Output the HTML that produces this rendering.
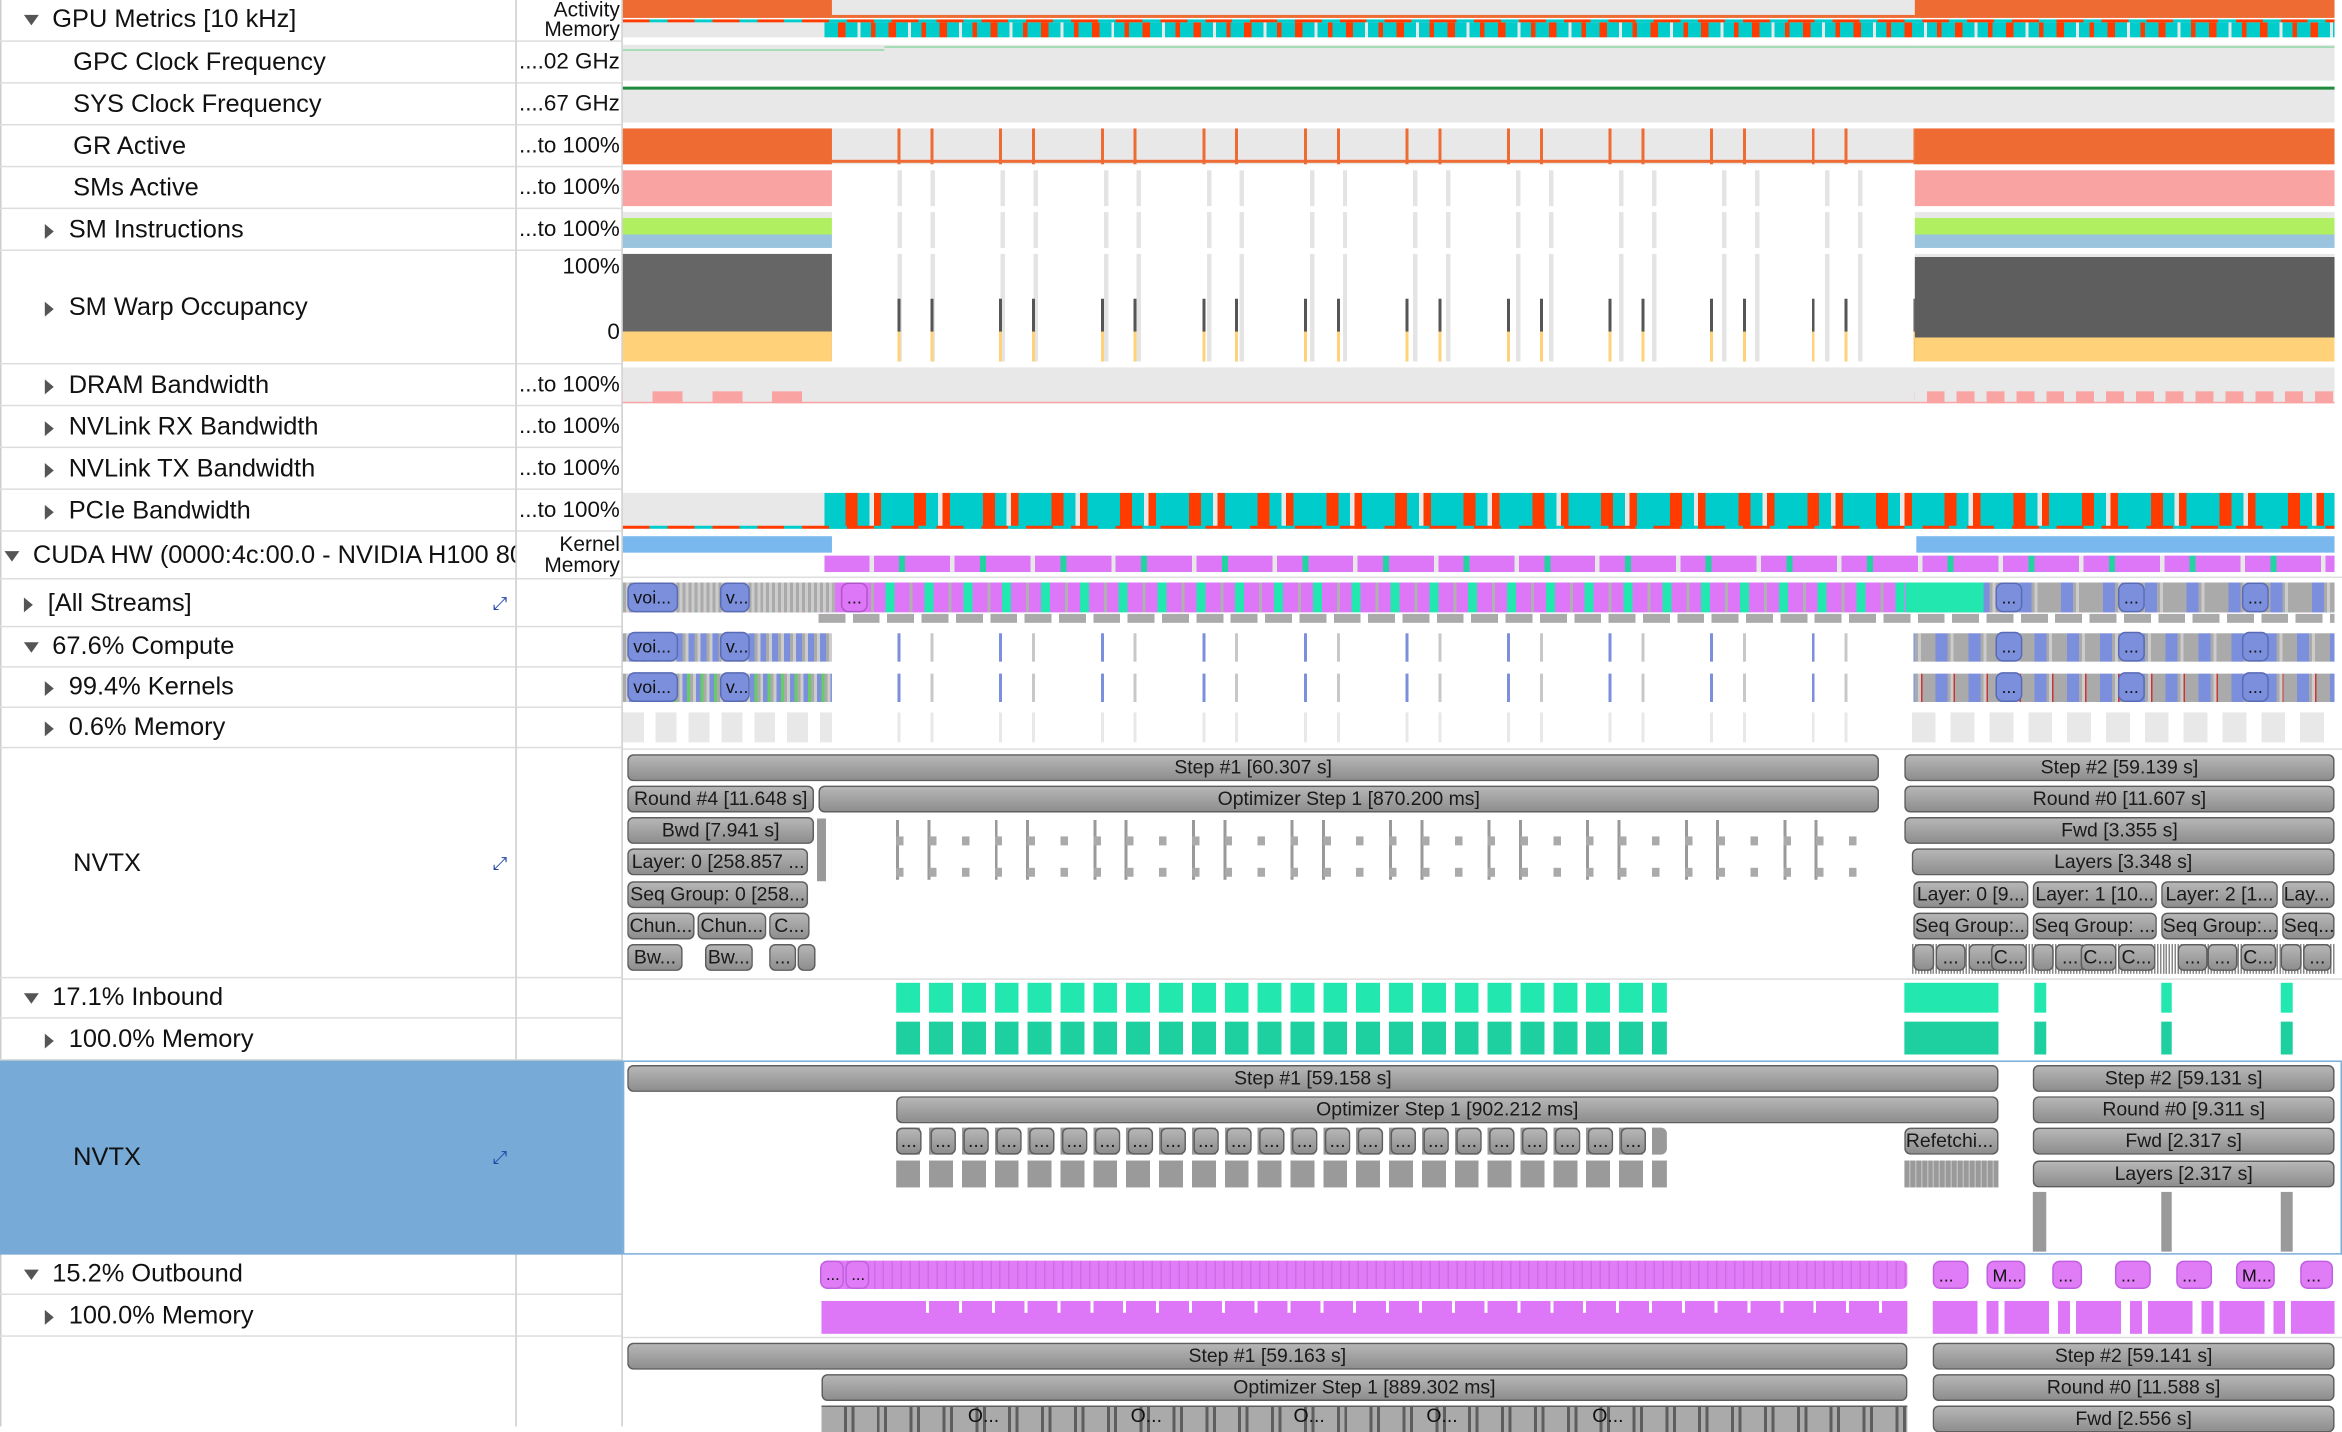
<!DOCTYPE html>
<html><head><meta charset="utf-8">
<style>
html,body{margin:0;padding:0;background:#fff;overflow:hidden}
#w{position:absolute;left:0;top:0;width:1568px;height:955px;transform:scale(1.49362);transform-origin:0 0;font-family:"Liberation Sans",sans-serif;color:#111}
div{box-sizing:border-box}
.a{position:absolute}
.l{position:absolute;left:0;width:345px;font-size:17px;white-space:nowrap;overflow:hidden;border-bottom:1px solid #ddd}
.v{position:absolute;left:346px;width:70px;font-size:15px;text-align:right;white-space:nowrap;overflow:hidden;border-bottom:1px solid #ddd;padding-right:1px}
.tri{display:inline-block;width:0;height:0;border-left:5px solid transparent;border-right:5px solid transparent;border-top:7px solid #555;margin-right:9px;vertical-align:middle}
.tr{display:inline-block;width:0;height:0;border-top:5px solid transparent;border-bottom:5px solid transparent;border-left:6px solid #555;margin-right:10px;vertical-align:middle}
.b{position:absolute;height:18px;background:linear-gradient(#b6b6b6,#a2a2a2 50%,#8e8e8e);border:1.5px solid #5e5e5e;border-radius:4px;font-size:13px;line-height:15px;text-align:center;white-space:nowrap;overflow:hidden;color:#1a1a1a}
.p{position:absolute;height:20px;background:#7b8fdc;border:1px solid #5a6bb5;border-radius:5px;font-size:12px;line-height:18px;text-align:left;padding-left:3px;color:#111;overflow:hidden}
.g{background:#e8e8e8}
</style></head><body><div id="w">
<!-- columns -->
<div class="a" style="left:345px;top:0;width:1px;height:955px;background:#ccc"></div>
<div class="a" style="left:416px;top:0;width:1px;height:955px;background:#ccc"></div>
<div class="a" style="left:0;top:0;width:1px;height:955px;background:#ccc"></div>

<!-- selected NVTX bg -->
<div class="a" style="left:0;top:710px;width:417px;height:130px;background:#77aad6"></div>
<div class="a" style="left:417px;top:710px;width:1151px;height:130px;border:1px solid #7aaedb"></div>

<!-- labels -->
<div class="l" style="top:0;height:28px;line-height:26px;padding-left:16px"><span class="tri"></span>GPU Metrics [10 kHz]</div>
<div class="v" style="top:0;height:28px;font-size:14px;line-height:13px">Activity<br>Memory</div>
<div class="l" style="top:28px;height:28px;line-height:27px;padding-left:49px">GPC Clock Frequency</div><div class="v" style="top:28px;height:28px;line-height:27px">....02 GHz</div>
<div class="l" style="top:56px;height:28px;line-height:27px;padding-left:49px">SYS Clock Frequency</div><div class="v" style="top:56px;height:28px;line-height:27px">....67 GHz</div>
<div class="l" style="top:84px;height:28px;line-height:27px;padding-left:49px">GR Active</div><div class="v" style="top:84px;height:28px;line-height:27px">...to 100%</div>
<div class="l" style="top:112px;height:28px;line-height:27px;padding-left:49px">SMs Active</div><div class="v" style="top:112px;height:28px;line-height:27px">...to 100%</div>
<div class="l" style="top:140px;height:28px;line-height:27px;padding-left:30px"><span class="tr"></span>SM Instructions</div><div class="v" style="top:140px;height:28px;line-height:27px">...to 100%</div>
<div class="l" style="top:168px;height:76px;line-height:76px;padding-left:30px"><span class="tr"></span>SM Warp Occupancy</div><div class="v" style="top:168px;height:76px;line-height:22px">100%<br><br>0</div>
<div class="l" style="top:244px;height:28px;line-height:27px;padding-left:30px"><span class="tr"></span>DRAM Bandwidth</div><div class="v" style="top:244px;height:28px;line-height:27px">...to 100%</div>
<div class="l" style="top:272px;height:28px;line-height:27px;padding-left:30px"><span class="tr"></span>NVLink RX Bandwidth</div><div class="v" style="top:272px;height:28px;line-height:27px">...to 100%</div>
<div class="l" style="top:300px;height:28px;line-height:27px;padding-left:30px"><span class="tr"></span>NVLink TX Bandwidth</div><div class="v" style="top:300px;height:28px;line-height:27px">...to 100%</div>
<div class="l" style="top:328px;height:28px;line-height:27px;padding-left:30px"><span class="tr"></span>PCIe Bandwidth</div><div class="v" style="top:328px;height:28px;line-height:27px">...to 100%</div>
<div class="l" style="top:356px;height:32px;line-height:31px;padding-left:3px"><span class="tri"></span>CUDA HW (0000:4c:00.0 - NVIDIA H100 80GB HBM3)</div><div class="v" style="top:356px;height:32px;font-size:14px;line-height:14px;padding-top:1px">Kernel<br>Memory</div>
<div class="l" style="top:388px;height:32px;line-height:31px;padding-left:16px"><span class="tr"></span>[All Streams]</div><div class="v" style="top:388px;height:32px"></div>
<div class="l" style="top:420px;height:27px;line-height:26px;padding-left:16px"><span class="tri"></span>67.6% Compute</div><div class="v" style="top:420px;height:27px"></div>
<div class="l" style="top:447px;height:27px;line-height:26px;padding-left:30px"><span class="tr"></span>99.4% Kernels</div><div class="v" style="top:447px;height:27px"></div>
<div class="l" style="top:474px;height:27px;line-height:26px;padding-left:30px"><span class="tr"></span>0.6% Memory</div><div class="v" style="top:474px;height:27px"></div>
<div class="l" style="top:501px;height:154px;line-height:153px;padding-left:49px">NVTX</div><div class="v" style="top:501px;height:154px"></div>
<div class="l" style="top:655px;height:27px;line-height:26px;padding-left:16px"><span class="tri"></span>17.1% Inbound</div><div class="v" style="top:655px;height:27px"></div>
<div class="l" style="top:682px;height:28px;line-height:27px;padding-left:30px"><span class="tr"></span>100.0% Memory</div><div class="v" style="top:682px;height:28px"></div>
<div class="l" style="top:710px;height:130px;line-height:129px;padding-left:49px;border-bottom:none">NVTX</div>
<div class="l" style="top:840px;height:27px;line-height:26px;padding-left:16px"><span class="tri"></span>15.2% Outbound</div><div class="v" style="top:840px;height:27px"></div>
<div class="l" style="top:867px;height:28px;line-height:27px;padding-left:30px"><span class="tr"></span>100.0% Memory</div><div class="v" style="top:867px;height:28px"></div>
<!-- expand icons -->
<div class="a" style="left:330px;top:397px;font-size:12px;color:#2244aa">⤢</div>
<div class="a" style="left:330px;top:571px;font-size:12px;color:#2244aa">⤢</div>
<div class="a" style="left:330px;top:768px;font-size:12px;color:#2244aa">⤢</div>

<!-- timeline separators -->
<div class="a" style="left:417px;top:386px;width:1151px;height:1px;background:#ddd"></div>
<div class="a" style="left:417px;top:501px;width:1151px;height:1px;background:#ddd"></div>
<div class="a" style="left:417px;top:655px;width:1151px;height:1px;background:#ddd"></div>
<div class="a" style="left:417px;top:895px;width:1151px;height:1px;background:#ddd"></div>

<!-- GPU metrics row -->
<div class="a g" style="left:417px;top:0;width:1146px;height:12px"></div>
<div class="a" style="left:417px;top:0;width:140px;height:12px;background:#ee6b34"></div>
<div class="a" style="left:1282px;top:0;width:281px;height:12px;background:#ee6b34"></div>
<div class="a" style="left:557px;top:10px;width:725px;height:2px;background:#ee6b34"></div>
<div class="a" style="left:417px;top:13px;width:1146px;height:2px;background:repeating-linear-gradient(90deg,#ff3b00 0 18px,#00cccc 18px 30px)"></div>
<div class="a g" style="left:417px;top:15px;width:135px;height:10px"></div>
<div class="a" style="left:552px;top:15px;width:1011px;height:10px;background:repeating-linear-gradient(90deg,#00cccc 0 9px,#ff3b00 9px 14px,#00cccc 14px 22px,#e8e8e8 22px 24px,#00cccc 24px 31px,#ff3b00 31px 34px)"></div>

<!-- GPC/SYS -->
<div class="a g" style="left:417px;top:30px;width:1146px;height:24px"></div>
<div class="a" style="left:417px;top:33px;width:175px;height:1px;background:#8fd9a8"></div>
<div class="a" style="left:592px;top:31px;width:690px;height:1px;background:#8fd9a8"></div>
<div class="a" style="left:1282px;top:31px;width:281px;height:1px;background:#8fd9a8"></div>
<div class="a g" style="left:417px;top:58px;width:1146px;height:24px"></div>
<div class="a" style="left:417px;top:58px;width:1146px;height:2px;background:#1e8a3c"></div>

<!-- GR Active -->
<div class="a g" style="left:417px;top:86px;width:1146px;height:24px"></div>
<div class="a" style="left:417px;top:86px;width:140px;height:24px;background:#ee6b34"></div>
<div class="a" style="left:1282px;top:86px;width:281px;height:24px;background:#ee6b34"></div>
<div class="a" style="left:557px;top:86px;width:725px;height:24px;background:repeating-linear-gradient(90deg,transparent 0 44px,#ee6b34 44px 46px,transparent 46px 66px,#ee6b34 66px 68px)"></div>
<div class="a" style="left:557px;top:107px;width:725px;height:2px;background:#ee6b34"></div>

<!-- SMs Active -->
<div class="a" style="left:417px;top:114px;width:140px;height:24px;background:#f9a3a3"></div>
<div class="a" style="left:1282px;top:114px;width:281px;height:24px;background:#f9a3a3"></div>
<div class="a" style="left:557px;top:114px;width:725px;height:24px;background:repeating-linear-gradient(90deg,transparent 0 44px,#e4e4e4 44px 47px,transparent 47px 66px,#e4e4e4 66px 69px)"></div>

<!-- SM Instructions -->
<div class="a" style="left:417px;top:142px;width:140px;height:24px;background:linear-gradient(#e8e8e8 0 4px,#b0f060 4px 15px,#9ac3dd 15px)"></div>
<div class="a" style="left:1282px;top:142px;width:281px;height:24px;background:linear-gradient(#e8e8e8 0 4px,#b0f060 4px 15px,#9ac3dd 15px)"></div>
<div class="a" style="left:557px;top:142px;width:725px;height:24px;background:repeating-linear-gradient(90deg,transparent 0 44px,#e4e4e4 44px 47px,transparent 47px 66px,#e4e4e4 66px 69px)"></div>

<!-- Warp -->
<div class="a" style="left:417px;top:170px;width:140px;height:72px;background:linear-gradient(#666 0 52px,#ffd27a 52px)"></div>
<div class="a" style="left:1282px;top:170px;width:281px;height:72px;background:linear-gradient(#e8e8e8 0 2px,#5e5e5e 2px 56px,#ffd27a 56px)"></div>
<div class="a" style="left:557px;top:170px;width:725px;height:72px;background:repeating-linear-gradient(90deg,transparent 0 44px,#e4e4e4 44px 47px,transparent 47px 66px,#e4e4e4 66px 69px)"></div>
<div class="a" style="left:557px;top:200px;width:725px;height:42px;background:repeating-linear-gradient(90deg,transparent 0 44px,#555 44px 46px,transparent 46px 66px,#555 66px 68px)"></div>
<div class="a" style="left:557px;top:222px;width:725px;height:20px;background:repeating-linear-gradient(90deg,transparent 0 44px,#ffd27a 44px 46px,transparent 46px 66px,#ffd27a 66px 68px)"></div>

<!-- DRAM -->
<div class="a g" style="left:417px;top:246px;width:1146px;height:24px"></div>
<div class="a" style="left:417px;top:262px;width:140px;height:8px;background:repeating-linear-gradient(90deg,transparent 0 20px,#f9a3a3 20px 40px)"></div>
<div class="a" style="left:1282px;top:262px;width:281px;height:8px;background:repeating-linear-gradient(90deg,transparent 0 8px,#f9a3a3 8px 20px)"></div>
<div class="a" style="left:417px;top:269px;width:1146px;height:1px;background:#f9a3a3"></div>

<!-- PCIe -->
<div class="a g" style="left:417px;top:330px;width:135px;height:24px"></div>
<div class="a" style="left:552px;top:330px;width:1011px;height:24px;background:repeating-linear-gradient(90deg,#00cccc 0 14px,#ff3b00 14px 22px,#00cccc 22px 30px,#e8e8e8 30px 33px,#ff3b00 33px 38px,#00cccc 38px 46px)"></div>
<div class="a" style="left:417px;top:352px;width:1146px;height:2px;background:repeating-linear-gradient(90deg,#ff3b00 0 18px,#00cccc 18px 30px)"></div>

<!-- CUDA HW -->
<div class="a" style="left:417px;top:359px;width:140px;height:11px;background:#78b8ef"></div>
<div class="a" style="left:1283px;top:359px;width:280px;height:11px;background:#78b8ef"></div>
<div class="a" style="left:552px;top:372px;width:1011px;height:11px;background:repeating-linear-gradient(90deg,#dd77f7 0 30px,#e8e8e8 30px 33px,#dd77f7 33px 50px,#22d4a0 50px 54px)"></div>

<!-- All Streams -->
<div class="a" style="left:417px;top:390px;width:1146px;height:20px;background:repeating-linear-gradient(90deg,#dd77f7 0 10px,#b0b0b0 10px 12px,#dd77f7 12px 20px,#22e8b0 20px 26px)"></div>
<div class="a" style="left:417px;top:390px;width:140px;height:20px;background:repeating-linear-gradient(90deg,#aaa 0 2px,#ccc 2px 4px)"></div>
<div class="a" style="left:1276px;top:390px;width:287px;height:20px;background:repeating-linear-gradient(90deg,#aaa 0 2px,#ccc 2px 4px,#aaa 4px 20px,#7b8fdc 20px 28px)"></div>
<div class="a" style="left:1276px;top:390px;width:52px;height:20px;background:#22e8b0"></div>
<div class="p" style="left:420px;top:390px;width:34px">voi...</div>
<div class="p" style="left:482px;top:390px;width:20px">v...</div>
<div class="p" style="left:563px;top:390px;width:18px;background:#dd77f7;border-color:#b055c8">...</div>
<div class="p" style="left:1336px;top:390px;width:18px">...</div>
<div class="p" style="left:1418px;top:390px;width:18px">...</div>
<div class="p" style="left:1501px;top:390px;width:18px">...</div>
<div class="a" style="left:548px;top:411px;width:1015px;height:6px;background:repeating-linear-gradient(90deg,#aaa 0 18px,transparent 18px 23px)"></div>

<!-- Compute & Kernels -->
<div class="a" style="left:417px;top:424px;width:140px;height:19px;background:repeating-linear-gradient(90deg,#aaa 0 2px,#ccc 2px 4px,#7b8fdc 4px 8px)"></div>
<div class="a" style="left:1282px;top:424px;width:281px;height:19px;background:repeating-linear-gradient(90deg,#aaa 0 2px,#ccc 2px 4px,#aaa 4px 14px,#7b8fdc 14px 22px)"></div>
<div class="a" style="left:557px;top:424px;width:725px;height:19px;background:repeating-linear-gradient(90deg,transparent 0 44px,#7b8fdc 44px 46px,transparent 46px 66px,#c8c8c8 66px 68px)"></div>
<div class="p" style="left:420px;top:423px;width:34px">voi...</div>
<div class="p" style="left:482px;top:423px;width:20px">v...</div>
<div class="p" style="left:1336px;top:423px;width:18px">...</div>
<div class="p" style="left:1418px;top:423px;width:18px">...</div>
<div class="p" style="left:1501px;top:423px;width:18px">...</div>
<div class="a" style="left:417px;top:451px;width:140px;height:19px;background:repeating-linear-gradient(90deg,#aaa 0 2px,#ccc 2px 4px,#7b8fdc 4px 7px,#6c6 7px 9px)"></div>
<div class="a" style="left:1282px;top:451px;width:281px;height:19px;background:repeating-linear-gradient(90deg,#aaa 0 2px,#ccc 2px 4px,#c33 4px 5px,#aaa 5px 14px,#7b8fdc 14px 22px)"></div>
<div class="a" style="left:557px;top:451px;width:725px;height:19px;background:repeating-linear-gradient(90deg,transparent 0 44px,#7b8fdc 44px 46px,transparent 46px 66px,#c8c8c8 66px 68px)"></div>
<div class="p" style="left:420px;top:450px;width:34px">voi...</div>
<div class="p" style="left:482px;top:450px;width:20px">v...</div>
<div class="p" style="left:1336px;top:450px;width:18px">...</div>
<div class="p" style="left:1418px;top:450px;width:18px">...</div>
<div class="p" style="left:1501px;top:450px;width:18px">...</div>
<!-- Memory -->
<div class="a" style="left:417px;top:477px;width:140px;height:20px;background:repeating-linear-gradient(90deg,#e8e8e8 0 14px,transparent 14px 22px)"></div>
<div class="a" style="left:557px;top:477px;width:725px;height:20px;background:repeating-linear-gradient(90deg,transparent 0 44px,#e8e8e8 44px 46px,transparent 46px 66px,#e8e8e8 66px 68px)"></div>
<div class="a" style="left:1280px;top:477px;width:283px;height:20px;background:repeating-linear-gradient(90deg,#e8e8e8 0 16px,transparent 16px 26px)"></div>

<!-- NVTX 1 -->
<div class="b" style="left:420px;top:505px;width:838px">Step #1 [60.307 s]</div>
<div class="b" style="left:1275px;top:505px;width:288px">Step #2 [59.139 s]</div>
<div class="b" style="left:420px;top:526px;width:125px">Round #4 [11.648 s]</div>
<div class="b" style="left:548px;top:526px;width:710px">Optimizer Step 1 [870.200 ms]</div>
<div class="b" style="left:1275px;top:526px;width:288px">Round #0 [11.607 s]</div>
<div class="b" style="left:420px;top:547px;width:125px">Bwd [7.941 s]</div>
<div class="b" style="left:1275px;top:547px;width:288px">Fwd [3.355 s]</div>
<div class="b" style="left:420px;top:568px;width:121px;text-align:left;padding-left:2px">Layer: 0 [258.857 ...</div>
<div class="b" style="left:1280px;top:568px;width:283px">Layers [3.348 s]</div>
<div class="b" style="left:420px;top:590px;width:121px;text-align:left;padding-left:1px">Seq Group: 0 [258....</div>
<div class="b" style="left:1281px;top:590px;width:77px">Layer: 0 [9...</div>
<div class="b" style="left:1361px;top:590px;width:83px">Layer: 1 [10...</div>
<div class="b" style="left:1447px;top:590px;width:78px">Layer: 2 [1...</div>
<div class="b" style="left:1528px;top:590px;width:35px;text-align:left">Lay...</div>
<div class="b" style="left:420px;top:611px;width:45px">Chun...</div>
<div class="b" style="left:467px;top:611px;width:46px">Chun...</div>
<div class="b" style="left:515px;top:611px;width:27px">C...</div>
<div class="b" style="left:1281px;top:611px;width:77px">Seq Group:...</div>
<div class="b" style="left:1361px;top:611px;width:83px">Seq Group: ...</div>
<div class="b" style="left:1447px;top:611px;width:78px">Seq Group:...</div>
<div class="b" style="left:1528px;top:611px;width:35px;text-align:left">Seq...</div>
<div class="b" style="left:420px;top:632px;width:37px">Bw...</div>
<div class="b" style="left:472px;top:632px;width:32px">Bw...</div>
<div class="b" style="left:515px;top:632px;width:18px">...</div>
<div class="b" style="left:534px;top:632px;width:12px"></div>
<div class="a" style="left:1280px;top:632px;width:283px;height:20px;background:repeating-linear-gradient(90deg,#888 0 1px,transparent 1px 2px)"></div>
<div class="b" style="left:1281px;top:632px;width:14px"></div>
<div class="b" style="left:1296px;top:632px;width:20px">...</div>
<div class="b" style="left:1318px;top:632px;width:20px">...</div>
<div class="b" style="left:1333px;top:632px;width:24px">C...</div>
<div class="b" style="left:1361px;top:632px;width:14px"></div>
<div class="b" style="left:1376px;top:632px;width:20px">...</div>
<div class="b" style="left:1393px;top:632px;width:24px">C...</div>
<div class="b" style="left:1418px;top:632px;width:25px">C...</div>
<div class="b" style="left:1458px;top:632px;width:20px">...</div>
<div class="b" style="left:1478px;top:632px;width:20px">...</div>
<div class="b" style="left:1500px;top:632px;width:24px">C...</div>
<div class="b" style="left:1527px;top:632px;width:14px"></div>
<div class="b" style="left:1542px;top:632px;width:19px">...</div>
<div class="a" style="left:557px;top:549px;width:701px;height:40px;background:repeating-linear-gradient(90deg,transparent 0 43px,#999 43px 45px,transparent 45px 64px,#999 64px 66px)"></div>
<div class="a" style="left:600px;top:560px;width:658px;height:6px;background:repeating-linear-gradient(90deg,#aaa 0 5px,transparent 5px 22px)"></div>
<div class="a" style="left:600px;top:581px;width:658px;height:6px;background:repeating-linear-gradient(90deg,#aaa 0 5px,transparent 5px 22px)"></div>
<div class="a" style="left:547px;top:548px;width:6px;height:42px;background:#999"></div>

<!-- Inbound -->
<div class="a" style="left:600px;top:658px;width:516px;height:20px;background:repeating-linear-gradient(90deg,#22e8b0 0 16px,transparent 16px 22px)"></div>
<div class="a" style="left:1275px;top:658px;width:63px;height:20px;background:#22e8b0"></div>
<div class="a" style="left:1362px;top:658px;width:8px;height:20px;background:#22e8b0"></div>
<div class="a" style="left:1447px;top:658px;width:7px;height:20px;background:#22e8b0"></div>
<div class="a" style="left:1527px;top:658px;width:8px;height:20px;background:#22e8b0"></div>
<div class="a" style="left:600px;top:684px;width:516px;height:22px;background:repeating-linear-gradient(90deg,#1ecf9f 0 16px,transparent 16px 22px)"></div>
<div class="a" style="left:1275px;top:684px;width:63px;height:22px;background:#1ecf9f"></div>
<div class="a" style="left:1362px;top:684px;width:8px;height:22px;background:#1ecf9f"></div>
<div class="a" style="left:1447px;top:684px;width:7px;height:22px;background:#1ecf9f"></div>
<div class="a" style="left:1527px;top:684px;width:8px;height:22px;background:#1ecf9f"></div>

<!-- NVTX 2 -->
<div class="b" style="left:420px;top:713px;width:918px">Step #1 [59.158 s]</div>
<div class="b" style="left:1361px;top:713px;width:202px">Step #2 [59.131 s]</div>
<div class="b" style="left:600px;top:734px;width:738px">Optimizer Step 1 [902.212 ms]</div>
<div class="b" style="left:1361px;top:734px;width:202px">Round #0 [9.311 s]</div>
<div class="a" style="left:600px;top:755px;width:516px;height:18px;background:repeating-linear-gradient(90deg,#999 0 16px,transparent 16px 22px);border-radius:4px"></div>
<div class="b" style="left:600px;top:755px;width:17px">...</div><div class="b" style="left:623px;top:755px;width:17px">...</div><div class="b" style="left:645px;top:755px;width:17px">...</div><div class="b" style="left:667px;top:755px;width:17px">...</div><div class="b" style="left:689px;top:755px;width:17px">...</div><div class="b" style="left:711px;top:755px;width:17px">...</div><div class="b" style="left:733px;top:755px;width:17px">...</div><div class="b" style="left:755px;top:755px;width:17px">...</div><div class="b" style="left:777px;top:755px;width:17px">...</div><div class="b" style="left:799px;top:755px;width:17px">...</div><div class="b" style="left:821px;top:755px;width:17px">...</div><div class="b" style="left:843px;top:755px;width:17px">...</div><div class="b" style="left:865px;top:755px;width:17px">...</div><div class="b" style="left:887px;top:755px;width:17px">...</div><div class="b" style="left:909px;top:755px;width:17px">...</div><div class="b" style="left:931px;top:755px;width:17px">...</div><div class="b" style="left:953px;top:755px;width:17px">...</div><div class="b" style="left:975px;top:755px;width:17px">...</div><div class="b" style="left:997px;top:755px;width:17px">...</div><div class="b" style="left:1019px;top:755px;width:17px">...</div><div class="b" style="left:1041px;top:755px;width:17px">...</div><div class="b" style="left:1063px;top:755px;width:17px">...</div><div class="b" style="left:1085px;top:755px;width:17px">...</div>
<div class="b" style="left:1275px;top:755px;width:63px;text-align:left">Refetchi...</div>
<div class="b" style="left:1361px;top:755px;width:202px">Fwd [2.317 s]</div>
<div class="a" style="left:600px;top:777px;width:516px;height:18px;background:repeating-linear-gradient(90deg,#9a9a9a 0 16px,transparent 16px 22px)"></div>
<div class="a" style="left:1275px;top:777px;width:63px;height:18px;background:repeating-linear-gradient(90deg,#9a9a9a 0 3px,#bbb 3px 4px)"></div>
<div class="b" style="left:1361px;top:777px;width:202px">Layers [2.317 s]</div>
<div class="a" style="left:1361px;top:798px;width:9px;height:40px;background:#9a9a9a"></div>
<div class="a" style="left:1447px;top:798px;width:7px;height:40px;background:#9a9a9a"></div>
<div class="a" style="left:1527px;top:798px;width:8px;height:40px;background:#9a9a9a"></div>

<!-- Outbound -->
<div class="a" style="left:550px;top:844px;width:727px;height:19px;background:repeating-linear-gradient(90deg,#e07cf5 0 5px,#d46ae8 5px 6px);border-radius:4px"></div>
<div class="p" style="left:549px;top:844px;width:16px;height:19px;background:#e07cf5;border-color:#c060e0;font-size:11px">...</div>
<div class="p" style="left:566px;top:844px;width:16px;height:19px;background:#e07cf5;border-color:#c060e0;font-size:11px">...</div>
<div class="p" style="left:1294px;top:844px;width:24px;height:19px;background:#e07cf5;border-color:#c060e0">...</div>
<div class="p" style="left:1330px;top:844px;width:26px;height:19px;background:#e07cf5;border-color:#c060e0">M...</div>
<div class="p" style="left:1374px;top:844px;width:20px;height:19px;background:#e07cf5;border-color:#c060e0">...</div>
<div class="p" style="left:1416px;top:844px;width:24px;height:19px;background:#e07cf5;border-color:#c060e0">...</div>
<div class="p" style="left:1457px;top:844px;width:24px;height:19px;background:#e07cf5;border-color:#c060e0">...</div>
<div class="p" style="left:1497px;top:844px;width:26px;height:19px;background:#e07cf5;border-color:#c060e0">M...</div>
<div class="p" style="left:1540px;top:844px;width:22px;height:19px;background:#e07cf5;border-color:#c060e0">...</div>
<div class="a" style="left:550px;top:871px;width:727px;height:22px;background:#dd77f7"></div>
<div class="a" style="left:600px;top:871px;width:677px;height:8px;background:repeating-linear-gradient(90deg,transparent 0 20px,#fff 20px 22px)"></div>
<div class="a" style="left:1294px;top:871px;width:269px;height:22px;background:repeating-linear-gradient(90deg,#dd77f7 0 30px,#fff 30px 36px,#dd77f7 36px 44px,#fff 44px 48px)"></div>

<!-- NVTX 3 -->
<div class="b" style="left:420px;top:899px;width:857px">Step #1 [59.163 s]</div>
<div class="b" style="left:1294px;top:899px;width:269px">Step #2 [59.141 s]</div>
<div class="b" style="left:550px;top:920px;width:727px">Optimizer Step 1 [889.302 ms]</div>
<div class="b" style="left:1294px;top:920px;width:269px">Round #0 [11.588 s]</div>
<div class="a" style="left:550px;top:941px;width:727px;height:18px;background:repeating-linear-gradient(90deg,#aaa 0 15px,#5e5e5e 15px 17px,#aaa 17px 20px,#5e5e5e 20px 22px);border-top:1.5px solid #5e5e5e"></div>
<div class="a" style="left:648px;top:940px;font-size:13px">O...</div>
<div class="a" style="left:757px;top:940px;font-size:13px">O...</div>
<div class="a" style="left:866px;top:940px;font-size:13px">O...</div>
<div class="a" style="left:955px;top:940px;font-size:13px">O...</div>
<div class="a" style="left:1066px;top:940px;font-size:13px">O...</div>
<div class="b" style="left:1294px;top:941px;width:269px">Fwd [2.556 s]</div>
</div></body></html>
